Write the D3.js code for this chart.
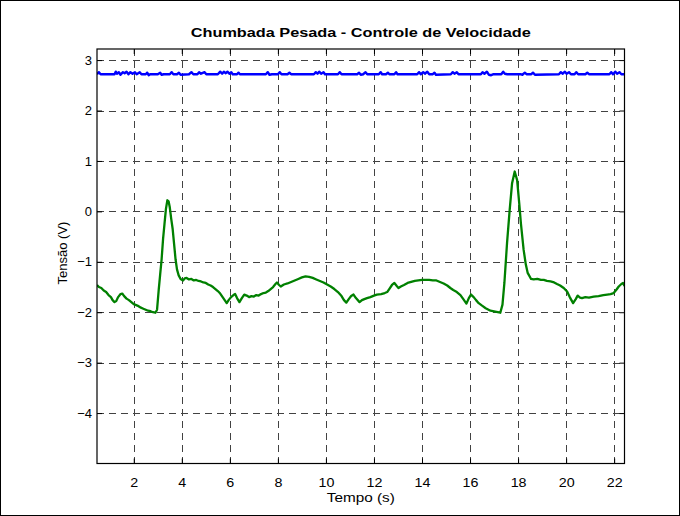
<!DOCTYPE html>
<html>
<head>
<meta charset="utf-8">
<script src="https://cdn.jsdelivr.net/npm/d3@7/dist/d3.min.js"></script>
<style>
  html, body { margin: 0; padding: 0; background: #fff; }
  svg { display: block; font-family: "Liberation Sans", Arial, sans-serif; }
</style>
</head>
<body>
<svg id="chart" width="680" height="516"></svg>
<script>
// Green trace: tension (V) over time (s)
const greenT = [0.47,0.55,0.65,0.75,0.85,0.95,1.05,1.12,1.20,1.27,1.35,1.45,1.52,1.60,1.70,1.80,1.90,2.00,2.10,2.20,2.30,2.40,2.50,2.60,2.70,2.80,2.90,2.97,3.04,3.10,3.16,3.22,3.28,3.34,3.40,3.45,3.50,3.56,3.62,3.68,3.74,3.80,3.87,3.95,4.05,4.12,4.20,4.30,4.40,4.50,4.60,4.70,4.80,4.90,5.00,5.10,5.20,5.30,5.40,5.50,5.60,5.70,5.80,5.87,5.95,6.05,6.15,6.22,6.30,6.40,6.50,6.60,6.70,6.80,6.90,7.00,7.10,7.20,7.30,7.40,7.50,7.60,7.70,7.80,7.90,7.96,8.05,8.12,8.25,8.40,8.55,8.70,8.85,9.00,9.15,9.30,9.45,9.60,9.75,9.90,10.05,10.20,10.35,10.50,10.65,10.75,10.85,10.95,11.05,11.15,11.25,11.40,11.50,11.60,11.71,11.85,12.00,12.12,12.30,12.45,12.55,12.65,12.75,12.85,12.95,13.02,13.12,13.25,13.40,13.55,13.70,13.85,14.00,14.15,14.30,14.45,14.60,14.75,14.90,15.05,15.18,15.30,15.45,15.60,15.72,15.85,15.95,16.04,16.15,16.25,16.36,16.50,16.65,16.85,17.05,17.26,17.35,17.43,17.54,17.65,17.75,17.86,17.96,18.05,18.12,18.23,18.32,18.40,18.54,18.65,18.80,18.95,19.07,19.20,19.35,19.50,19.62,19.75,19.90,20.04,20.15,20.29,20.40,20.48,20.58,20.66,20.80,20.95,21.15,21.35,21.55,21.71,21.85,21.98,22.10,22.19,22.30,22.37,22.43];
const greenV = [-1.46,-1.50,-1.52,-1.57,-1.60,-1.66,-1.70,-1.76,-1.80,-1.78,-1.70,-1.64,-1.63,-1.68,-1.73,-1.76,-1.80,-1.84,-1.86,-1.88,-1.91,-1.93,-1.95,-1.97,-1.98,-2.00,-2.01,-1.95,-1.55,-1.25,-0.95,-0.55,-0.25,0.05,0.22,0.20,0.08,-0.15,-0.35,-0.65,-0.95,-1.15,-1.27,-1.34,-1.37,-1.33,-1.32,-1.35,-1.34,-1.37,-1.36,-1.38,-1.39,-1.41,-1.42,-1.45,-1.47,-1.50,-1.54,-1.58,-1.63,-1.70,-1.77,-1.82,-1.76,-1.70,-1.66,-1.64,-1.72,-1.80,-1.72,-1.65,-1.67,-1.70,-1.68,-1.69,-1.66,-1.67,-1.64,-1.62,-1.61,-1.58,-1.54,-1.50,-1.44,-1.41,-1.46,-1.49,-1.45,-1.43,-1.40,-1.37,-1.34,-1.31,-1.29,-1.30,-1.32,-1.35,-1.38,-1.41,-1.45,-1.49,-1.54,-1.60,-1.68,-1.76,-1.81,-1.74,-1.68,-1.65,-1.72,-1.80,-1.76,-1.74,-1.72,-1.70,-1.67,-1.65,-1.64,-1.62,-1.60,-1.53,-1.46,-1.42,-1.48,-1.52,-1.49,-1.46,-1.42,-1.40,-1.38,-1.37,-1.36,-1.36,-1.36,-1.37,-1.37,-1.40,-1.43,-1.47,-1.52,-1.56,-1.60,-1.66,-1.74,-1.83,-1.72,-1.65,-1.70,-1.76,-1.82,-1.87,-1.92,-1.97,-1.99,-2.01,-1.85,-1.42,-0.63,0.03,0.56,0.79,0.62,0.15,-0.25,-0.76,-1.05,-1.22,-1.34,-1.35,-1.34,-1.36,-1.36,-1.38,-1.39,-1.41,-1.44,-1.47,-1.52,-1.59,-1.70,-1.82,-1.74,-1.67,-1.71,-1.72,-1.70,-1.71,-1.69,-1.68,-1.66,-1.65,-1.64,-1.62,-1.55,-1.49,-1.44,-1.42,-1.48];

// Blue trace: nearly constant level with small spikes
const blueT = [0.47,0.55,0.62,1.20,1.25,1.30,1.38,1.45,1.55,1.62,1.70,1.78,1.86,1.95,2.05,2.12,2.25,2.32,2.50,2.56,2.62,2.68,3.00,3.10,3.16,3.25,3.50,3.58,3.65,3.80,3.88,3.95,4.30,4.40,4.48,4.65,4.72,4.80,4.95,5.02,5.50,5.60,5.68,5.75,5.82,5.90,5.98,6.06,6.12,6.30,6.36,6.42,7.50,7.58,7.65,7.75,8.00,8.08,8.15,8.40,8.48,8.55,9.50,9.58,9.65,9.72,9.80,9.90,9.96,10.50,10.58,10.65,11.30,11.38,11.45,11.55,11.65,11.72,12.20,12.28,12.34,12.50,12.58,12.64,12.85,12.92,12.98,13.80,13.88,13.95,14.05,14.12,14.22,14.30,14.45,14.52,14.58,15.20,15.28,15.35,15.45,15.52,16.45,16.52,16.60,16.70,16.78,16.88,16.98,17.30,17.38,17.45,17.55,18.10,18.18,18.28,18.35,18.55,18.62,18.70,19.70,19.78,19.85,19.95,20.02,20.12,20.20,20.35,20.42,20.50,20.80,20.88,20.95,21.80,21.88,21.95,22.05,22.12,22.22,22.30,22.43];
const blueV = [2.72,2.76,2.72,2.72,2.77,2.73,2.76,2.71,2.76,2.74,2.77,2.72,2.76,2.73,2.76,2.72,2.76,2.72,2.72,2.75,2.70,2.72,2.72,2.75,2.71,2.72,2.72,2.76,2.72,2.72,2.75,2.71,2.72,2.76,2.72,2.72,2.76,2.73,2.76,2.72,2.72,2.77,2.73,2.77,2.74,2.77,2.73,2.76,2.72,2.72,2.75,2.72,2.72,2.76,2.71,2.72,2.72,2.76,2.72,2.72,2.75,2.72,2.72,2.76,2.73,2.77,2.73,2.76,2.72,2.72,2.76,2.72,2.72,2.75,2.71,2.72,2.76,2.72,2.72,2.76,2.72,2.72,2.75,2.72,2.72,2.76,2.72,2.72,2.76,2.72,2.76,2.73,2.77,2.72,2.72,2.75,2.71,2.72,2.76,2.73,2.76,2.72,2.72,2.76,2.73,2.77,2.71,2.70,2.72,2.72,2.77,2.73,2.72,2.72,2.71,2.75,2.72,2.72,2.75,2.71,2.72,2.76,2.73,2.77,2.73,2.76,2.72,2.72,2.76,2.72,2.72,2.75,2.72,2.72,2.76,2.72,2.77,2.73,2.76,2.72,2.72];

const xTicks = [2,4,6,8,10,12,14,16,18,20,22];
const yTicks = [-4,-3,-2,-1,0,1,2,3];
const xDomain = [0.47, 22.43];
const yDomain = [-5, 3.22];

const titleText = "Chumbada Pesada - Controle de Velocidade";
const xLabel = "Tempo (s)";
const yLabel = "Tensão (V)";

const W = 680, H = 516;
const m = { left: 97, top: 49, right: 680 - 624.5, bottom: 516 - 463.5 };
const pw = W - m.left - m.right, ph = H - m.top - m.bottom;

const svg = d3.select("#chart");

// figure frame
svg.append("rect").attr("x", 0.5).attr("y", 0.5).attr("width", W - 1).attr("height", H - 1)
  .attr("fill", "#fff").attr("stroke", "#000").attr("stroke-width", 1);

const x = d3.scaleLinear().domain(xDomain).range([0, pw]);
const y = d3.scaleLinear().domain(yDomain).range([ph, 0]);

const g = svg.append("g").attr("transform", `translate(${m.left},${m.top})`);

g.append("rect").attr("width", pw).attr("height", ph).attr("fill", "#fff");

// dashed grid
const grid = g.append("g").attr("stroke", "#222").attr("stroke-width", 1)
  .attr("stroke-dasharray", "7,5").attr("opacity", 0.85);
grid.selectAll(".gx").data(xTicks).join("line")
  .attr("x1", d => Math.round(x(d)) + 0.5).attr("x2", d => Math.round(x(d)) + 0.5)
  .attr("y1", 0).attr("y2", ph);
grid.selectAll(".gy").data(yTicks).join("line")
  .attr("y1", d => Math.round(y(d)) + 0.5).attr("y2", d => Math.round(y(d)) + 0.5)
  .attr("x1", 0).attr("x2", pw);

// traces
g.append("clipPath").attr("id", "plotclip").append("rect").attr("width", pw).attr("height", ph);
const line = d3.line().x(d => x(d[0])).y(d => y(d[1]));
const blueData = blueT.map((t, i) => [t, blueV[i]]);
const greenData = greenT.map((t, i) => [t, greenV[i]]);
g.append("path").datum(blueData).attr("d", line).attr("fill", "none")
  .attr("stroke", "#0000ff").attr("stroke-width", 2.4).attr("stroke-linejoin", "round")
  .attr("clip-path", "url(#plotclip)");
g.append("path").datum(greenData).attr("d", line).attr("fill", "none")
  .attr("stroke", "#008000").attr("stroke-width", 2.3).attr("stroke-linejoin", "round")
  .attr("clip-path", "url(#plotclip)");

// axes with inward ticks on all four sides
const tl = 5;
const axB = d3.axisBottom(x).tickValues(xTicks).tickSizeInner(-tl).tickSizeOuter(0).tickPadding(14);
const axT = d3.axisTop(x).tickValues(xTicks).tickSizeInner(-tl).tickSizeOuter(0).tickFormat("");
const axL = d3.axisLeft(y).tickValues(yTicks).tickSizeInner(-tl).tickSizeOuter(0).tickPadding(5);
const axR = d3.axisRight(y).tickValues(yTicks).tickSizeInner(-tl).tickSizeOuter(0).tickFormat("");

function style(sel) {
  sel.select(".domain").remove();
  sel.selectAll("line").attr("stroke", "#000");
  sel.selectAll("text").attr("font-size", 13).attr("fill", "#000")
    .attr("font-family", "'Liberation Sans', Arial, sans-serif");
}
const gxb = g.append("g").attr("transform", `translate(0,${ph})`).call(axB).call(style);
gxb.selectAll("text").attr("transform", "scale(1.1,1)");
g.append("g").call(axT).call(style);
g.append("g").call(axL).call(style);
g.append("g").attr("transform", `translate(${pw},0)`).call(axR).call(style);

// plot box
g.append("rect").attr("x", 0).attr("y", 0).attr("width", pw).attr("height", ph)
  .attr("fill", "none").attr("stroke", "#000").attr("stroke-width", 1.2);

// labels
svg.append("text").attr("x", m.left + pw / 2).attr("y", 37).attr("text-anchor", "middle")
  .attr("font-size", 13).attr("font-weight", "bold")
  .attr("textLength", 340).attr("lengthAdjust", "spacingAndGlyphs").text(titleText);
svg.append("text").attr("x", m.left + pw / 2).attr("y", 502).attr("text-anchor", "middle")
  .attr("font-size", 13)
  .attr("textLength", 68).attr("lengthAdjust", "spacingAndGlyphs").text(xLabel);
svg.append("text").attr("transform", `translate(67,253) rotate(-90)`)
  .attr("text-anchor", "middle").attr("font-size", 13).text(yLabel);
</script>
</body>
</html>
